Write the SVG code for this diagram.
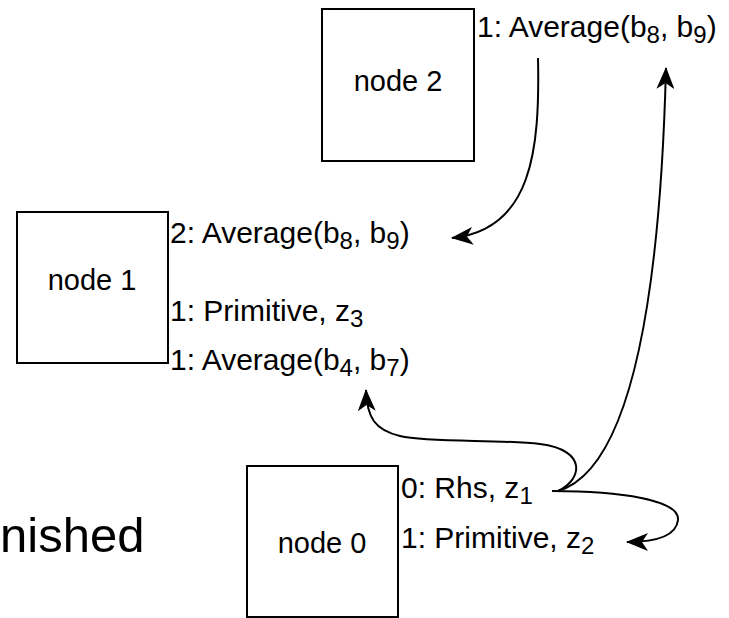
<svg xmlns="http://www.w3.org/2000/svg" width="729" height="618" viewBox="0 0 729 618">
<style>
.box{fill:#fff;stroke:#000;stroke-width:2}
.nl{font-family:"Liberation Sans",Arial,sans-serif;font-size:29px;fill:#000;text-anchor:middle}
.pl{font-family:"Liberation Sans",Arial,sans-serif;font-size:30px;fill:#000}
.sub{font-size:24px}
.big{font-family:"Liberation Sans",Arial,sans-serif;font-size:49px;fill:#000}
.edge{fill:none;stroke:#000;stroke-width:2;marker-end:url(#arr)}
</style>
<defs>
<marker id="arr" markerUnits="userSpaceOnUse" markerWidth="22" markerHeight="18" refX="21" refY="9" orient="auto">
<path d="M0,0 L22,9 L0,18 L6,9 Z" fill="#000"/>
</marker>
</defs>
<text class="big" x="0" y="552">nished</text>
<g id="node2">
<rect class="box" x="322" y="9" width="152" height="152"/>
<text class="nl" x="398" y="91">node 2</text>
<text class="pl" x="477" y="37">1: Average(b<tspan class="sub" dy="6">8</tspan><tspan dy="-6">, b</tspan><tspan class="sub" dy="6">9</tspan><tspan dy="-6">)</tspan></text>
</g>
<g id="node1">
<rect class="box" x="17" y="212" width="151" height="151"/>
<text class="nl" x="92" y="290">node 1</text>
<text class="pl" x="170" y="243">2: Average(b<tspan class="sub" dy="6">8</tspan><tspan dy="-6">, b</tspan><tspan class="sub" dy="6">9</tspan><tspan dy="-6">)</tspan></text>
<text class="pl" x="170" y="321">1: Primitive, z<tspan class="sub" dy="6">3</tspan></text>
<text class="pl" x="170" y="370">1: Average(b<tspan class="sub" dy="6">4</tspan><tspan dy="-6">, b</tspan><tspan class="sub" dy="6">7</tspan><tspan dy="-6">)</tspan></text>
</g>
<g id="node0">
<rect class="box" x="247" y="466" width="151" height="151"/>
<text class="nl" x="322" y="553">node 0</text>
<text class="pl" x="401" y="498">0: Rhs, z<tspan class="sub" dy="6">1</tspan></text>
<text class="pl" x="401" y="548">1: Primitive, z<tspan class="sub" dy="6">2</tspan></text>
</g>
<g id="connectors">
<path class="edge" d="M538,58 C540,150 532,230 452,238"/>
<path class="edge" d="M558,491 C630,470 660,300 666,68"/>
<path class="edge" d="M558,491 C582,480 588,450 540,444 C500,439 430,443 400,436 C375,430 367,418 366,390"/>
<path class="edge" d="M552,491 C620,491 680,500 678,520 C676,538 652,542 627,542"/>
</g>
</svg>
